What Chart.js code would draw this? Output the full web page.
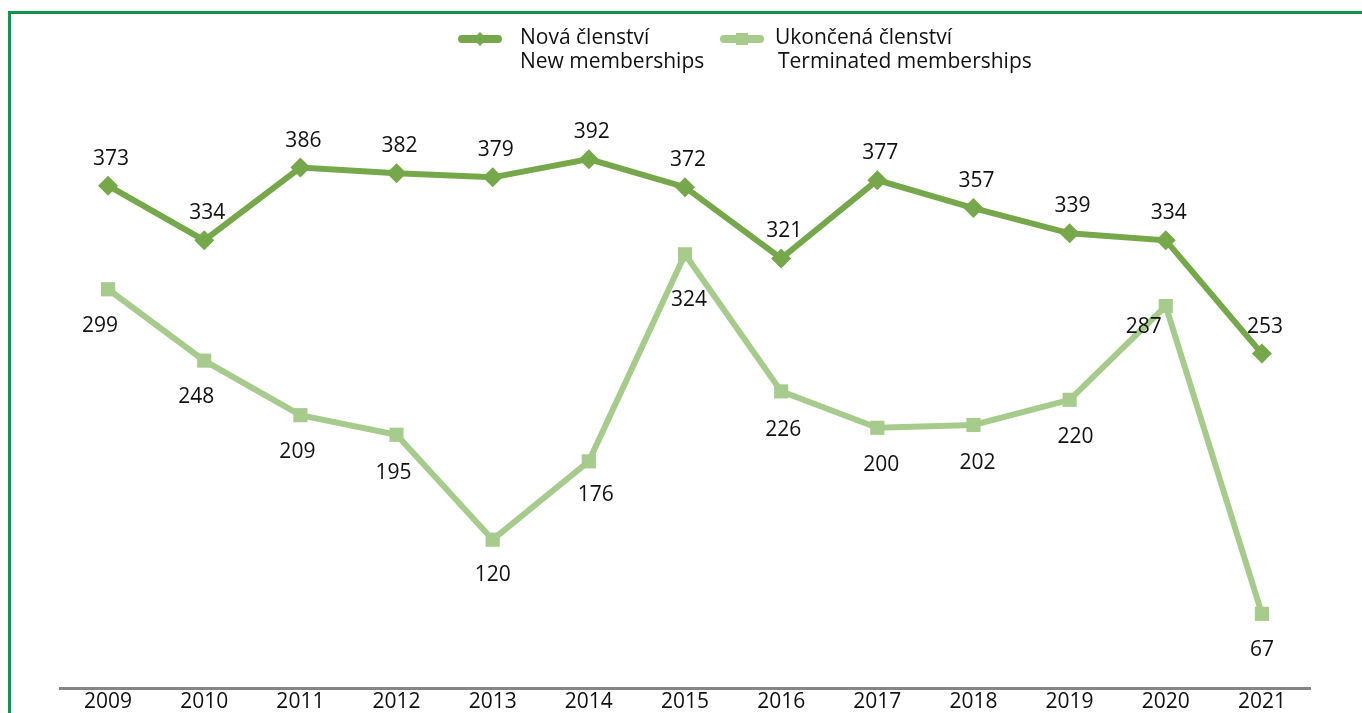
<!DOCTYPE html>
<html>
<head>
<meta charset="utf-8">
<script src="https://cdn.jsdelivr.net/npm/chart.js@4"></script>
<style>
  html, body { margin: 0; padding: 0; background: #fff; }
  #wrap { position: relative; width: 1362px; height: 713px; }
  #frame { position: absolute; left: 8px; top: 11px; right: 0; bottom: 0; border-left: 3px solid #14924a; border-top: 3px solid #14924a; }
  canvas { position: absolute; left: 0; top: 0; }
</style>
</head>
<body>
<div id="wrap">
  <div id="frame"></div>
  <canvas id="myChart" width="1362" height="713"></canvas>
</div>
<script>
// roky na ose X
var years = ['2009','2010','2011','2012','2013','2014','2015','2016','2017','2018','2019','2020','2021'];

// nová a ukončená členství
var newMemberships = [373,334,386,382,379,392,372,321,377,357,339,334,253];
var terminatedMemberships = [299,248,209,195,120,176,324,226,200,202,220,287,67];

var newLabel = ['Nová členství', 'New memberships'];
var termLabel = ['Ukončená členství', 'Terminated memberships'];

var darkGreen = '#76a84b';
var lightGreen = '#a7cb8c';
var font = '"Open Sans", "Noto Sans", sans-serif';

// posuny popisků (jako v Excelu, kde se popisky vyhýbají čarám)
var termShiftX = [-8,-8,-3,-3,0,7,4,2,4,4,6,-22,0];
var termShiftY = [37,36,37,38,35,34,46,39,37,38,37,21,36];

var valueLabels = {
  id: 'valueLabels',
  afterDatasetsDraw: function(chart) {
    var ctx = chart.ctx;
    ctx.save();
    ctx.font = '21px ' + font;
    ctx.fillStyle = '#111';
    ctx.textAlign = 'center';
    ctx.textBaseline = 'middle';
    chart.data.datasets.forEach(function(ds, i) {
      var meta = chart.getDatasetMeta(i);
      meta.data.forEach(function(pt, j) {
        if (i === 0) {
          ctx.fillText(ds.data[j], pt.x + 3, pt.y - 27);
        } else {
          ctx.fillText(ds.data[j], pt.x + termShiftX[j], pt.y + termShiftY[j]);
        }
      });
    });
    ctx.restore();
  }
};

// legenda se dvěma řádky
var twoLineLegend = {
  id: 'twoLineLegend',
  afterDraw: function(chart) {
    var ctx = chart.ctx;
    var items = [
      { x: 462, text: newLabel, color: darkGreen, style: 'diamond', tx: 520, tx2: 520 },
      { x: 724, text: termLabel, color: lightGreen, style: 'square', tx: 775, tx2: 778 }
    ];
    ctx.save();
    items.forEach(function(it) {
      ctx.strokeStyle = it.color;
      ctx.lineWidth = 8;
      ctx.lineCap = 'round';
      ctx.beginPath();
      ctx.moveTo(it.x, 39);
      ctx.lineTo(it.x + 36, 39);
      ctx.stroke();
      ctx.fillStyle = it.color;
      var cx = it.x + 18;
      if (it.style === 'diamond') {
        ctx.beginPath();
        ctx.moveTo(cx, 32); ctx.lineTo(cx + 7, 39); ctx.lineTo(cx, 46); ctx.lineTo(cx - 7, 39);
        ctx.closePath(); ctx.fill();
      } else {
        ctx.fillRect(cx - 6, 33, 12, 12);
      }
      ctx.fillStyle = '#111';
      ctx.font = '21px ' + font;
      ctx.textBaseline = 'middle';
      ctx.textAlign = 'left';
      ctx.fillText(it.text[0], it.tx, 38);
      ctx.fillText(it.text[1], it.tx2, 62);
    });
    ctx.restore();
  }
};

var ctx = document.getElementById('myChart');
var myChart = new Chart(ctx, {
  type: 'line',
  data: {
    labels: years,
    datasets: [
      {
        label: newLabel.join(' '),
        data: newMemberships,
        borderColor: darkGreen,
        backgroundColor: darkGreen,
        borderWidth: 6,
        pointStyle: 'rectRot',
        pointRadius: 10,
        pointBorderWidth: 0,
        tension: 0,
        fill: false
      },
      {
        label: termLabel.join(' '),
        data: terminatedMemberships,
        borderColor: lightGreen,
        backgroundColor: lightGreen,
        borderWidth: 6,
        pointStyle: 'rect',
        pointRadius: 10,
        pointBorderWidth: 0,
        tension: 0,
        fill: false
      }
    ]
  },
  options: {
    responsive: false,
    animation: false,
    layout: { padding: { left: 60, right: 52, top: 78, bottom: -4 } },
    plugins: {
      legend: { display: false },
      tooltip: { enabled: false }
    },
    scales: {
      x: {
        offset: true,
        grid: { display: false, drawTicks: false },
        border: { color: '#858585', width: 3 },
        ticks: { color: '#111', font: { size: 21, family: font, lineHeight: 1 }, padding: 4, maxRotation: 0 }
      },
      y: {
        display: false,
        min: 14,
        max: 450
      }
    }
  },
  plugins: [valueLabels, twoLineLegend]
});
</script>
</body>
</html>
